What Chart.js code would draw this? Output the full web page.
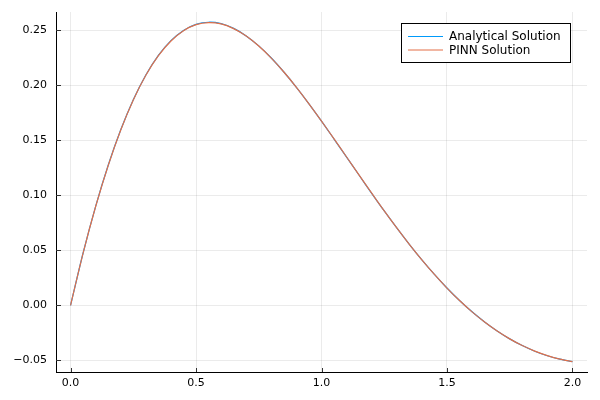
<!DOCTYPE html>
<html>
<head>
<meta charset="utf-8">
<script src="https://cdn.jsdelivr.net/npm/chart.js@4.4.1/dist/chart.umd.min.js"></script>
<style>
    body { margin: 0; background: #ffffff; }
    #wrap { width: 600px; height: 400px; }
</style>
</head>
<body>
<div id="wrap"><canvas id="solutionChart" width="600" height="400"></canvas></div>
<script>
const xValues = [
    0.00, 0.05, 0.10, 0.15, 0.20, 0.25, 0.30, 0.35, 0.40, 0.45,
    0.50, 0.55, 0.60, 0.65, 0.70, 0.75, 0.80, 0.85, 0.90, 0.95,
    1.00, 1.05, 1.10, 1.15, 1.20, 1.25, 1.30, 1.35, 1.40, 1.45,
    1.50, 1.55, 1.60, 1.65, 1.70, 1.75, 1.80, 1.85, 1.90, 1.95, 2.00
];
const analyticalValues = [
    0.0000, 0.0475, 0.0899, 0.1272, 0.1594, 0.1867, 0.2092, 0.2270, 0.2404, 0.2497,
    0.2552, 0.2571, 0.2558, 0.2515, 0.2447, 0.2356, 0.2246, 0.2119, 0.1980, 0.1830,
    0.1673, 0.1510, 0.1346, 0.1181, 0.1017, 0.0857, 0.0703, 0.0554, 0.0413, 0.0281,
    0.0157, 0.0044, -0.0059, -0.0151, -0.0233, -0.0305, -0.0366, -0.0417, -0.0458, -0.0489, -0.0512
];
const pinnValues = [
    0.0000, 0.0474, 0.0897, 0.1270, 0.1592, 0.1865, 0.2089, 0.2267, 0.2401, 0.2494,
    0.2549, 0.2568, 0.2556, 0.2513, 0.2446, 0.2355, 0.2245, 0.2119, 0.1980, 0.1830,
    0.1673, 0.1511, 0.1347, 0.1182, 0.1018, 0.0858, 0.0703, 0.0554, 0.0413, 0.0280,
    0.0156, 0.0043, -0.0060, -0.0152, -0.0234, -0.0305, -0.0366, -0.0416, -0.0457, -0.0489, -0.0511
];
const seriesLabels = ["Analytical Solution", "PINN Solution"];
const xTicks = [0.0, 0.5, 1.0, 1.5, 2.0];
const yTicks = [-0.05, 0.00, 0.05, 0.10, 0.15, 0.20, 0.25];

const FONT = "'DejaVu Sans', sans-serif";

function toPoints(values) {
    return xValues.map((x, i) => ({ x: x, y: values[i] }));
}

function formatNumber(value, digits) {
    const text = Math.abs(value).toFixed(digits);
    return value < -1e-9 ? "\u2212" + text : text;
}

// tick marks drawn inside the plot, like the original
const innerTicks = {
    id: "innerTicks",
    afterDatasetsDraw(chart) {
        const ctx = chart.ctx;
        const area = chart.chartArea;
        const xScale = chart.scales.x;
        const yScale = chart.scales.y;
        ctx.save();
        ctx.strokeStyle = "#333333";
        ctx.lineWidth = 1;
        ctx.beginPath();
        xTicks.forEach(t => {
            const px = Math.round(xScale.getPixelForValue(t)) + 0.5;
            ctx.moveTo(px, area.bottom);
            ctx.lineTo(px, area.bottom - 4);
        });
        yTicks.forEach(t => {
            const py = Math.round(yScale.getPixelForValue(t)) + 0.5;
            ctx.moveTo(area.left, py);
            ctx.lineTo(area.left + 5, py);
        });
        ctx.stroke();
        ctx.restore();
    }
};

// legend box in the upper right corner
const boxLegend = {
    id: "boxLegend",
    afterDraw(chart) {
        const ctx = chart.ctx;
        const left = 401.5;
        const top = 23.5;
        const width = 169;
        const height = 39;
        ctx.save();
        ctx.fillStyle = "#ffffff";
        ctx.fillRect(left, top, width, height);
        ctx.strokeStyle = "#000000";
        ctx.lineWidth = 1;
        ctx.strokeRect(left, top, width, height);
        ctx.font = "12px " + FONT;
        ctx.textBaseline = "middle";
        chart.data.datasets.forEach((ds, i) => {
            const y = 36.5 + i * 13.5;
            ctx.strokeStyle = ds.borderColor;
            ctx.beginPath();
            ctx.moveTo(408, y);
            ctx.lineTo(443, y);
            ctx.stroke();
            ctx.fillStyle = "#000000";
            ctx.fillText(ds.label, 449, y + 0.5);
        });
        ctx.restore();
    }
};

function drawChart() {
    const ctx = document.getElementById("solutionChart").getContext("2d");

    new Chart(ctx, {
        type: "line",
        data: {
            datasets: [
                {
                    label: seriesLabels[0],
                    data: toPoints(analyticalValues),
                    borderColor: "#009AFA",
                    borderWidth: 1.2,
                    pointRadius: 0,
                    fill: false,
                    tension: 0.3,
                    order: 2
                },
                {
                    label: seriesLabels[1],
                    data: toPoints(pinnValues),
                    borderColor: "#E36F47",
                    borderWidth: 1.2,
                    pointRadius: 0,
                    fill: false,
                    tension: 0.3,
                    order: 1
                }
            ]
        },
        options: {
            responsive: false,
            animation: false,
            layout: {
                padding: { left: 0, right: 13, top: 12, bottom: 0 }
            },
            plugins: {
                legend: { display: false },
                tooltip: { enabled: false }
            },
            scales: {
                x: {
                    type: "linear",
                    min: -0.058,
                    max: 2.058,
                    afterBuildTicks: axis => {
                        axis.ticks = xTicks.map(v => ({ value: v }));
                    },
                    afterFit: axis => {
                        axis.height = 28;
                        axis.paddingLeft = 0;
                        axis.paddingRight = 0;
                    },
                    grid: {
                        color: "rgba(0,0,0,0.08)",
                        lineWidth: 1,
                        drawTicks: false
                    },
                    border: { display: true, color: "#000000", width: 1 },
                    ticks: {
                        padding: 5,
                        color: "#000000",
                        font: { family: FONT, size: 11 },
                        maxRotation: 0,
                        callback: value => formatNumber(value, 1)
                    }
                },
                y: {
                    type: "linear",
                    min: -0.0606,
                    max: 0.2664,
                    afterBuildTicks: axis => {
                        axis.ticks = yTicks.map(v => ({ value: v }));
                    },
                    afterFit: axis => {
                        axis.width = 56;
                        axis.paddingTop = 0;
                        axis.paddingBottom = 0;
                    },
                    grid: {
                        color: "rgba(0,0,0,0.08)",
                        lineWidth: 1,
                        drawTicks: false
                    },
                    border: { display: true, color: "#000000", width: 1 },
                    ticks: {
                        padding: 9,
                        color: "#000000",
                        font: { family: FONT, size: 11 },
                        callback: value => formatNumber(value, 2)
                    }
                }
            }
        },
        plugins: [innerTicks, boxLegend]
    });
}

window.onload = function () {
    drawChart();
};
</script>
</body>
</html>
